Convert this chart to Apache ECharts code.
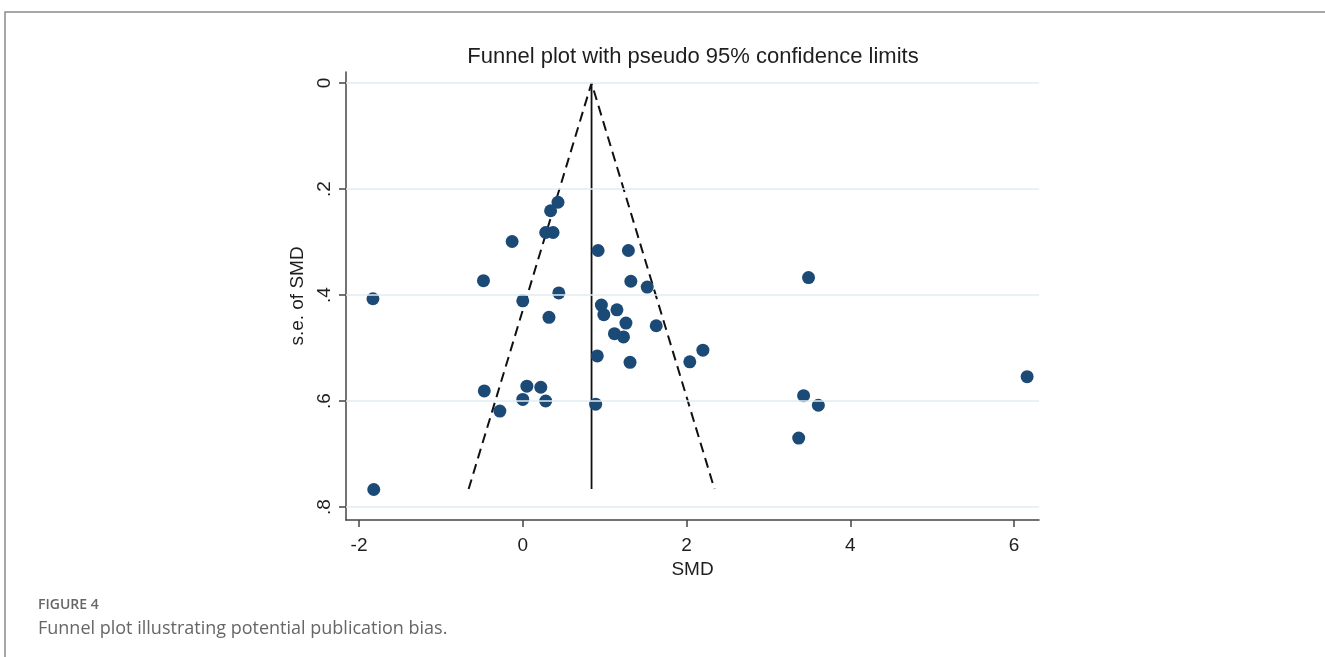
<!DOCTYPE html>
<html>
<head>
<meta charset="utf-8">
<title>Funnel plot</title>
<script src="https://cdn.jsdelivr.net/npm/echarts@6/dist/echarts.min.js"></script>
<style>
html,body{margin:0;padding:0;background:#fff;}
#chart{width:1325px;height:657px;}
</style>
</head>
<body>
<div id="chart"></div>
<script>
// effect sizes (SMD) of each study
var smd = [0.43, 0.34, 0.28, 0.37, -0.13, 0.92, 1.29, -0.48, 1.32, 1.52,
	0.44, 0.00, 0.96, 1.15, 0.99, 0.32, 1.26, 1.63, 1.12, 1.23,
	0.91, 2.20, 2.04, 1.31, 0.05, 0.22, -0.47, 0.00, 0.28, 0.89,
	-0.28, 3.49, 6.16, 3.43, 3.61, 3.37, -1.83, -1.82];
// standard error of each SMD (same order)
var se = [0.225, 0.241, 0.282, 0.282, 0.299, 0.316, 0.316, 0.373, 0.374, 0.385,
	0.396, 0.411, 0.419, 0.428, 0.437, 0.442, 0.453, 0.458, 0.473, 0.479,
	0.515, 0.504, 0.526, 0.527, 0.572, 0.574, 0.581, 0.597, 0.600, 0.606,
	0.619, 0.367, 0.554, 0.590, 0.608, 0.670, 0.407, 0.767];

// pooled estimate and largest se (funnel drawn down to it)
var pooledSMD = 0.84;
var seMax = 0.766;

var xTicks = [-2, 0, 2, 4, 6];
var yTicks = [0, 0.2, 0.4, 0.6, 0.8];

function funnelChart(domId){
	var myChart = echarts.init(document.getElementById(domId));

	var points = [];
	for(let i = 0; i < smd.length; i++){
		points.push([smd[i], se[i]]);
	}
	//pseudo 95% limits
	var lo = pooledSMD - 1.96 * seMax;
	var hi = pooledSMD + 1.96 * seMax;

	var axisColor = '#444';
	var textColor = '#1e1e1e';

	var option = {
		animation: false,
		backgroundColor: '#fff',
		textStyle: {fontFamily: 'Liberation Sans, Arial, sans-serif'},
		grid: {left: 346, right: 286, top: 72, bottom: 137},
		xAxis: {
			type: 'value',
			min: -2.159,
			max: 6.305,
			name: 'SMD',
			nameLocation: 'middle',
			nameGap: 34,
			nameTextStyle: {fontSize: 19, color: textColor},
			axisLine: {onZero: false, lineStyle: {color: axisColor, width: 1.5}},
			axisTick: {customValues: xTicks, length: 7, lineStyle: {color: axisColor, width: 1.5}},
			axisLabel: {customValues: xTicks, fontSize: 19, color: textColor, margin: 16},
			splitLine: {show: false}
		},
		yAxis: {
			type: 'value',
			inverse: true,
			min: -0.0208,
			max: 0.8245,
			name: 's.e. of SMD',
			nameLocation: 'middle',
			nameGap: 36,
			nameRotate: 90,
			nameTextStyle: {fontSize: 19, color: textColor},
			axisLine: {onZero: false, lineStyle: {color: axisColor, width: 1.5}},
			axisTick: {customValues: yTicks, length: 7, lineStyle: {color: axisColor, width: 1.5}},
			axisLabel: {
				customValues: yTicks,
				rotate: 90,
				fontSize: 19,
				color: textColor,
				margin: 12,
				formatter: function(v){
					return v === 0 ? '0' : String(v).replace(/^0/, '');
				}
			},
			splitLine: {show: false}
		},
		series: [
			{
				// horizontal grid lines
				type: 'line',
				data: [],
				silent: true,
				z: 1,
				markLine: {
					silent: true,
					symbol: 'none',
					label: {show: false},
					lineStyle: {color: '#e1edf1', width: 1.5, type: 'solid'},
					data: yTicks.map(v => ({yAxis: v}))
				}
			},
			{
				type: 'line',
				data: [[pooledSMD, 0], [pooledSMD, seMax]],
				symbol: 'none',
				z: 3,
				lineStyle: {color: '#111', width: 1.8}
			},
			{
				type: 'line',
				data: [[lo, seMax], [pooledSMD, 0], [hi, seMax]],
				symbol: 'none',
				z: 3,
				lineStyle: {color: '#111', width: 2, type: [10, 6]}
			},
			{
				type: 'scatter',
				data: points,
				symbol: 'circle',
				symbolSize: 13,
				z: 4,
				itemStyle: {color: '#1b4a77', opacity: 1}
			}
		],
		graphic: [
			{
				type: 'rect',
				shape: {x: 5, y: 12, width: 1360, height: 700},
				style: {fill: 'none', stroke: '#8a8a8a', lineWidth: 1.5},
				silent: true
			},
			{
				type: 'text',
				x: 693, y: 57,
				style: {
					text: 'Funnel plot with pseudo 95% confidence limits',
					font: '22px "Liberation Sans", Arial, sans-serif',
					fill: textColor,
					textAlign: 'center',
					textVerticalAlign: 'middle'
				}
			},
			{
				type: 'text',
				x: 38, y: 605,
				style: {
					text: 'FIGURE 4',
					font: '600 14px "Open Sans", Lato, sans-serif',
					fill: '#666',
					textVerticalAlign: 'middle'
				}
			},
			{
				type: 'text',
				x: 38, y: 629,
				style: {
					text: 'Funnel plot illustrating potential publication bias.',
					font: '18px "Open Sans", Lato, sans-serif',
					fill: '#666',
					textVerticalAlign: 'middle'
				}
			}
		]
	};
	myChart.setOption(option);
}

funnelChart('chart');
</script>
</body>
</html>
